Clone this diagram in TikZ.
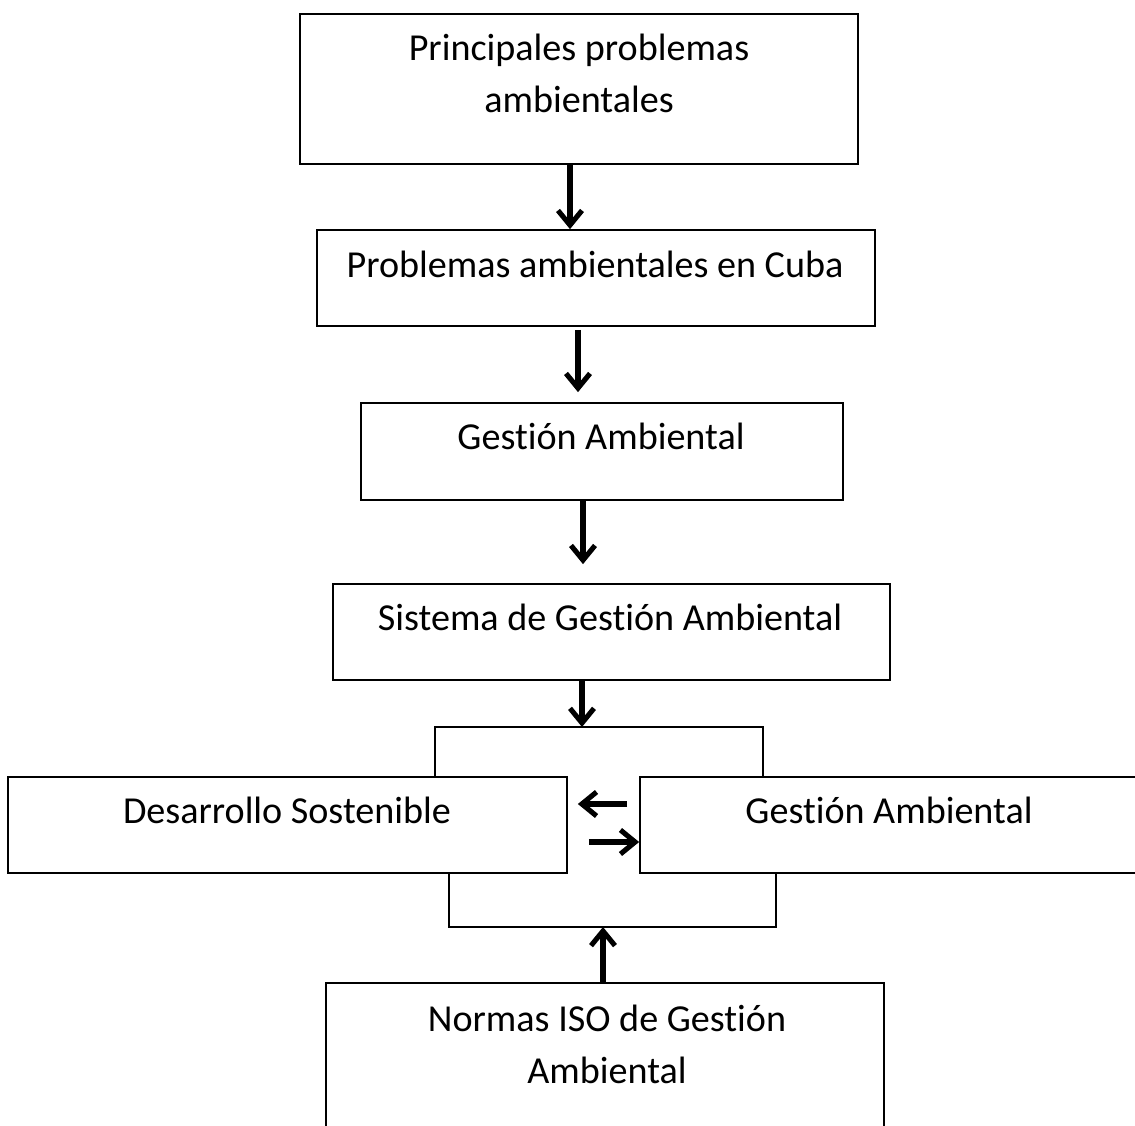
\documentclass[tikz,border=0pt]{standalone}
\usepackage{fontspec}
\setmainfont{Carlito}[Ligatures=TeX,RawFeature={-liga;-clig;-dlig}]
\usepackage{tikz}
\usetikzlibrary{positioning,fit,arrows.meta}

\tikzset{
  caja/.style={draw, line width=1.3pt, inner sep=0pt},
  texto/.style={anchor=base, align=center, font=\fontsize{28.6}{39}\selectfont},
  flecha/.style={line width=3.8pt, -{Straight Barb[length=11pt,width=18pt]}},
  linea/.style={line width=1pt}
}

\begin{document}
\begin{tikzpicture}[x=0.75pt,y=0.75pt,yscale=-1,xscale=1]
        \useasboundingbox (0,0) rectangle (1135,1126);

        %Boxes
        \node [caja, fit={(300,14) (858,164)}] (prin) {};
        \node [caja, fit={(317,230) (875,326)}] (cuba) {};
        \node [caja, fit={(361,403) (843,500)}] (gest) {};
        \node [caja, fit={(333,584) (890,680)}] (sga) {};
        \node [caja, fit={(8,777) (567,873)}] (des) {};
        \node [caja, fit={(640,777) (1145,873)}] (gam) {};
        \node [caja, fit={(326,983) (884,1140)}] (iso) {};

        % Text Node
        \node [texto] (prin-t) at (579,113) {Principales problemas\\ambientales};
        \node [texto] (cuba-t) at (595,278) {Problemas ambientales en Cuba};
        \node [texto] (gest-t) at (601,450) {Gestión Ambiental};
        \node [texto] (sga-t) at (610,630) {Sistema de Gestión Ambiental};
        \node [texto] (des-t) at (287,823) {Desarrollo Sostenible};
        \node [texto] (gam-t) at (889,823) {Gestión Ambiental};
        \node [texto] (iso-t) at (607,1083) {Normas ISO de Gestión\\Ambiental};

        %Bracket corners
        \coordinate (ci) at (435,727);
        \coordinate (cd) at (763,727);
        \coordinate (cima) at (582,727);
        \coordinate (bi) at (449,927);
        \coordinate (bd) at (776,927);
        \coordinate (base) at (603,927);

        %Brackets
        \draw [linea] (des.north -| ci) -- (ci) -- (cd) -- (gam.north -| cd);
        \draw [linea] (des.south -| bi) -- (bi) -- (bd) -- (gam.south -| bd);

        %Arrows
        \draw [flecha] ([xshift=-6.75pt]prin.south) -- ([xshift=-6.75pt]prin.south |- cuba.north);
        \draw [flecha, shorten <=2.25pt, shorten >=7.5pt] ([xshift=-13.5pt]cuba.south) -- ([xshift=-13.5pt]cuba.south |- gest.north);
        \draw [flecha, shorten >=14.25pt] ([xshift=-14.25pt]gest.south) -- ([xshift=-14.25pt]gest.south |- sga.north);
        \draw [flecha] (sga.south -| cima) -- (cima);
        \draw [flecha] (iso.north -| base) -- (base);
        \draw [flecha, shorten <=9pt, shorten >=7.5pt] ([yshift=-15.75pt]gam.west) -- ([yshift=-15.75pt]gam.west -| des.east);
        \draw [flecha, shorten <=15.75pt] ([yshift=12.75pt]des.east) -- ([yshift=12.75pt]des.east -| gam.west);
\end{tikzpicture}
\end{document}
